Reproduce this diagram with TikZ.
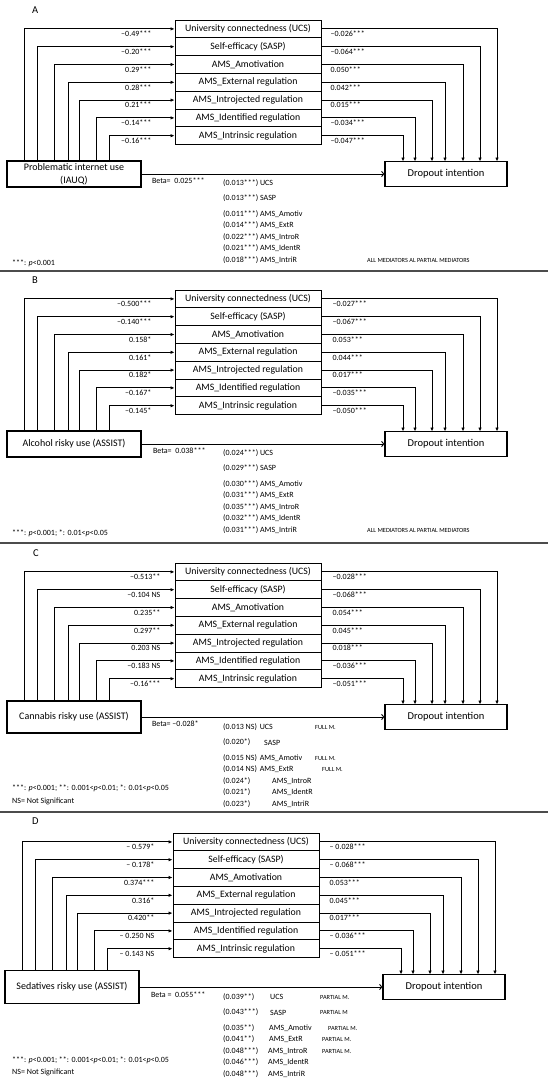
\documentclass[tikz,border=0pt]{standalone}
\usepackage{fontspec}
\setmainfont{Carlito}
\usetikzlibrary{arrows.meta,positioning}

\tikzset{
  medbox/.style={draw, line width=0.9pt, minimum width=146pt, minimum height=17.8pt,
    inner sep=0pt, font=\fontsize{9.8}{11}\selectfont},
  endbox/.style={draw, line width=1.6pt, inner sep=0pt, align=center,
    font=\fontsize{10}{12.5}\selectfont},
  coef/.style={inner sep=0pt, font=\fontsize{8}{9}\selectfont},
  note/.style={inner sep=0pt, anchor=west, font=\fontsize{8}{9}\selectfont},
  tag/.style={inner sep=0pt, anchor=west, font=\fontsize{6.3}{7}\selectfont},
  link/.style={line width=0.9pt, -{Latex[length=4pt,width=3.5pt]}},
  direct/.style={line width=0.9pt, -{To[length=3pt,width=6pt]}},
  panelname/.style={inner sep=0pt, anchor=west, font=\fontsize{10.5}{12}\selectfont},
  rule/.style={line width=1.4pt, black!70},
}

% boxes and arrows of one panel: #1 prefix, #2 predictor, #3 predictor height
\newcommand\mediationframe[3]{%
  \foreach \t [count=\i] in {University connectedness (UCS), Self-efficacy (SASP),
      AMS\_Amotivation, AMS\_External regulation, AMS\_Introjected regulation,
      AMS\_Identified regulation, AMS\_Intrinsic regulation}
    \node[medbox] (#1-m\i) at (248, 28.9+17.8*\i-17.8) {\t};
  \node[endbox, minimum width=134pt, minimum height=#3pt] (#1-x) at (74,174) {#2};
  \node[endbox, minimum width=122pt, minimum height=25pt, font=\fontsize{10.5}{12.5}\selectfont]
    (#1-y) at (446,174) {Dropout intention};
  \foreach \lx/\rx [count=\i] in {24/497,37/480,54/463,68/445,79/432,96/415,109/403}{
    \coordinate (#1-a\i) at (\lx, 174-#3/2);
    \coordinate (#1-b\i) at (\rx, 161.5);
    \draw[link] (#1-a\i) |- (#1-m\i);
    \draw[link] (#1-m\i) -| (#1-b\i);
  }
  \draw[direct] (#1-x) -- (#1-y);
}

\begin{document}
\begin{tikzpicture}[x=1pt, y=-1pt]
  \useasboundingbox (0,0) rectangle (550,1081);

  % A: internet use
  \begin{scope}
    \node[panelname] (a-name) at (32,10) {A};
    \mediationframe{a}{Problematic internet use\\(IAUQ)}{26}
    \foreach \l/\r [count=\i] in {--0.49***/--0.026***, --0.20***/--0.064***, 0.29***/0.050***,
        0.28***/0.042***, 0.21***/0.015***, --0.14***/--0.034***, --0.16***/--0.047***}{
      \node[coef, anchor=north east] (a-l\i) at ([xshift=-23pt, yshift=-2pt]a-m\i.west) {\l};
      \node[coef, anchor=north west] (a-r\i) at ([xshift=9pt, yshift=-2pt]a-m\i.east) {\r};
    }
    \node[note, anchor=north west] (a-beta) at ([xshift=10pt, yshift=-4pt]a-x.east) {Beta=\ \ 0.025***};
    \foreach \s/\dy [count=\i] in {(0.013***) UCS/0, (0.013***) SASP/15.5, (0.011***) AMS\_Amotiv/31,
        (0.014***) AMS\_ExtR/42.5, (0.022***) AMS\_IntroR/54, (0.021***) AMS\_IdentR/65.5,
        (0.018***) AMS\_IntriR/77}
      \node[note] (a-ie\i) at (223, 183+\dy) {\s};
    \node[tag] (a-tag) at (367,260) {ALL MEDIATORS AL PARTIAL MEDIATORS};
    \node[note] (a-sig) at (12,263) {***: \textit{p}<0.001};
  \end{scope}
  \coordinate (r1a) at (0,271);
  \coordinate (r1b) at (548,271);
  \draw[rule] (r1a) -- (r1b);

  % B: alcohol
  \begin{scope}[shift={(0,270)}]
    \node[panelname] (b-name) at (32,10) {B};
    \mediationframe{b}{Alcohol risky use (ASSIST)}{26}
    \foreach \l/\r [count=\i] in {--0.500***/--0.027***, --0.140***/--0.067***, 0.158*/0.053***,
        0.161*/0.044***, 0.182*/0.017***, --0.167*/--0.035***, --0.145*/--0.050***}{
      \node[coef, anchor=north east] (b-l\i) at ([xshift=-23pt, yshift=-2pt]b-m\i.west) {\l};
      \node[coef, anchor=north west] (b-r\i) at ([xshift=11pt, yshift=-2pt]b-m\i.east) {\r};
    }
    \node[note, anchor=north west] (b-beta) at ([xshift=11pt, yshift=-4pt]b-x.east) {Beta=\ \ 0.038***};
    \foreach \s/\dy [count=\i] in {(0.024***) UCS/0, (0.029***) SASP/15.5, (0.030***) AMS\_Amotiv/31,
        (0.031***) AMS\_ExtR/42.5, (0.035***) AMS\_IntroR/54, (0.032***) AMS\_IdentR/65.5,
        (0.031***) AMS\_IntriR/77}
      \node[note] (b-ie\i) at (223, 183+\dy) {\s};
    \node[tag] (b-tag) at (367,260) {ALL MEDIATORS AL PARTIAL MEDIATORS};
    \node[note] (b-sig) at (12,263) {***: \textit{p}<0.001; *: 0.01<\textit{p}<0.05};
  \end{scope}
  \coordinate (r2a) at (0,543);
  \coordinate (r2b) at (548,543);
  \draw[rule] (r2a) -- (r2b);

  % C: cannabis
  \begin{scope}[shift={(0,543)}]
    \node[panelname] (c-name) at (33,10) {C};
    \mediationframe{c}{Cannabis risky use (ASSIST)}{32}
    \foreach \l/\r [count=\i] in {--0.513**/--0.028***, --0.104 NS/--0.068***, 0.235**/0.054***,
        0.297**/0.045***, 0.203 NS/0.018***, --0.183 NS/--0.036***, --0.16***/--0.051***}{
      \node[coef, anchor=north east] (c-l\i) at ([xshift=-14pt, yshift=-2pt]c-m\i.west) {\l};
      \node[coef, anchor=north west] (c-r\i) at ([xshift=11pt, yshift=-2pt]c-m\i.east) {\r};
    }
    \node[note, anchor=north west] (c-beta) at ([xshift=10pt, yshift=-4pt]c-x.east) {Beta= --0.028*};
    % rows without significance: name follows the value
    \foreach \v/\n/\dy/\i in {(0.013 NS)/UCS/0/1, (0.015 NS)/AMS\_Amotiv/31/3, (0.014 NS)/AMS\_ExtR/42.5/4}{
      \node[note] (c-ie\i) at (223, 184+\dy) {\v};
      \node[note, right=2.5pt of c-ie\i] (c-med\i) {\n};
    }
    \foreach \v/\n/\nx/\dy/\i in {(0.020*)/SASP/264/15.5/2, (0.024*)/AMS\_IntroR/272/54/5,
        (0.021*)/AMS\_IdentR/272/65.5/6, (0.023*)/AMS\_IntriR/272/77/7}{
      \node[note] (c-ie\i) at (223, 184+\dy) {\v};
      \node[note] (c-med\i) at (\nx, 184+\dy) {\n};
    }
    \node[tag] (c-tag1) at (315,184) {FULL M.};
    \node[tag] (c-tag3) at (315,215) {FULL M.};
    \node[tag] (c-tag4) at (322,226.5) {FULL M.};
    \node[note] (c-sig) at (12,245) {***: \textit{p}<0.001; **: 0.001<\textit{p}<0.01; *: 0.01<\textit{p}<0.05};
    \node[note] (c-ns) at (12,258) {NS= Not Significant};
  \end{scope}
  \coordinate (r3a) at (0,812);
  \coordinate (r3b) at (548,812);
  \draw[rule] (r3a) -- (r3b);

  % D: sedatives
  \begin{scope}[shift={(-2,813)}]
    \node[panelname] (d-name) at (34,8) {D};
    \mediationframe{d}{Sedatives risky use (ASSIST)}{33}
    \foreach \l/\r [count=\i] in {-- 0.579*/-- 0.028***, -- 0.178*/-- 0.068***, 0.374***/0.053***,
        0.316*/0.045***, 0.420**/0.017***, -- 0.250 NS/-- 0.036***, -- 0.143 NS/-- 0.051***}{
      \node[coef, anchor=north east] (d-l\i) at ([xshift=-18pt, yshift=-2pt]d-m\i.west) {\l};
      \node[coef, anchor=north west] (d-r\i) at ([xshift=10pt, yshift=-2pt]d-m\i.east) {\r};
    }
    \node[note, anchor=north west] (d-beta) at ([xshift=11pt, yshift=-5pt]d-x.east) {Beta =\ \ 0.055***};
    \foreach \v/\n/\nx/\dy [count=\i] in {(0.039**)/UCS/272/0, (0.043***)/SASP/272/15.5,
        (0.035**)/AMS\_Amotiv/271/31, (0.041**)/AMS\_ExtR/271/42.5, (0.048***)/AMS\_IntroR/270/54,
        (0.046***)/AMS\_IdentR/270/65.5, (0.048***)/AMS\_IntriR/270/77}{
      \node[note] (d-ie\i) at (225, 184+\dy) {\v};
      \node[note] (d-med\i) at (\nx, 184+\dy) {\n};
    }
    \node[tag] (d-tag1) at (322,184) {PARTIAL M.};
    \node[tag] (d-tag2) at (322,199.5) {PARTIAL M};
    \node[tag] (d-tag3) at (330,215) {PARTIAL M.};
    \node[tag] (d-tag4) at (324,226.5) {PARTIAL M.};
    \node[tag] (d-tag5) at (324,238) {PARTIAL M.};
    \node[note] (d-sig) at (14,247) {***: \textit{p}<0.001; **: 0.001<\textit{p}<0.01; *: 0.01<\textit{p}<0.05};
    \node[note] (d-ns) at (14,259) {NS= Not Significant};
  \end{scope}
\end{tikzpicture}
\end{document}
